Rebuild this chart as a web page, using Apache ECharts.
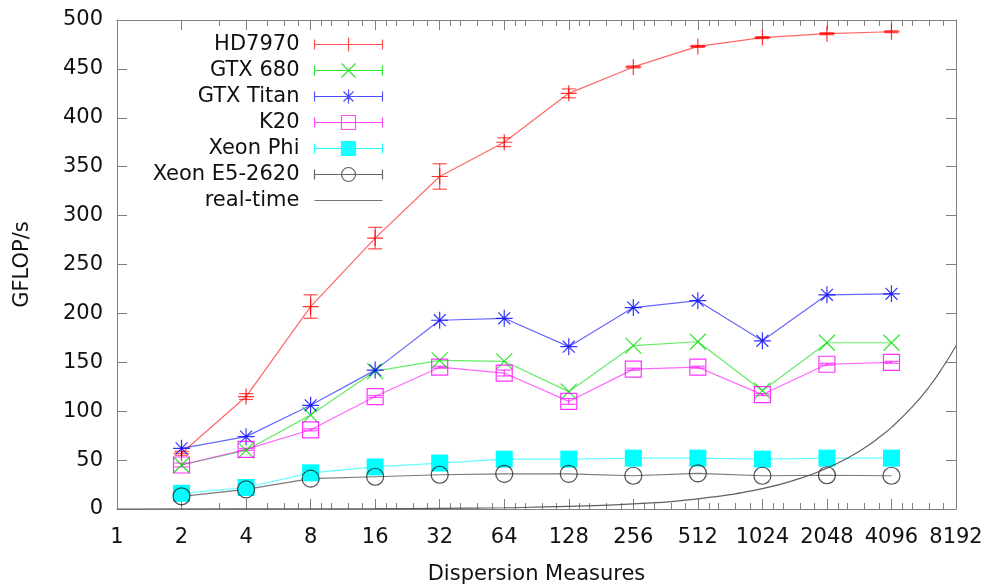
<!DOCTYPE html>
<html>
<head>
<meta charset="utf-8">
<title>GFLOP/s vs Dispersion Measures</title>
<script src="https://cdn.jsdelivr.net/npm/echarts@6/dist/echarts.min.js"></script>
<style>
  html, body { margin: 0; padding: 0; background: #fff; }
  #chart { width: 992px; height: 585px; }
</style>
</head>
<body>
<div id="chart"></div>
<script>
// dispersion measures where the kernels were measured
const dms = [2, 4, 8, 16, 32, 64, 128, 256, 512, 1024, 2048, 4096];
const xTicks = [1, 2, 4, 8, 16, 32, 64, 128, 256, 512, 1024, 2048, 4096, 8192];

const hd7970    = [57, 115, 207, 277, 340, 375, 425, 452, 473, 482, 486, 488];
const hd7970Err = [2, 3, 12, 11, 13, 4.5, 4.5, 1, 1, 1, 1, 1];
const gtx680    = [45, 60, 96, 141, 152, 151, 120, 167, 171, 121, 170, 170];
const gtxTitan  = [62, 74, 106, 142, 193, 195, 166, 206, 213, 172, 219, 220];
const k20       = [45, 61, 81, 115, 145, 139, 110, 143, 145, 117, 148, 150];
const k20Err    = [2, 1, 1, 1, 1, 3, 3, 1, 1, 1, 1, 1];
const xeonPhi   = [16, 22, 37, 43, 47, 51, 51, 52, 52, 51, 52, 52];
const xeonE5    = [13, 20, 31, 33, 35, 36, 36, 34, 36.5, 34, 34.5, 34];

// real-time threshold curve
const realTimeDm = [1, 16, 32, 64, 128, 256, 512, 1024, 1536, 2048, 2560, 3072, 3584, 4096, 5120, 6144, 7168, 8192];
const realTime   = [0.02, 0.33, 0.65, 1.3, 2.6, 5.2, 10.4, 20.9, 31.3, 41.8, 52.2, 62.6, 73.1, 83.5, 104.4, 125, 146.2, 167];

// gnuplot style minor tics: integer multiples inside each octave
const minorTicks = xTicks.slice(0, -1)
  .flatMap(b => [1.125, 1.25, 1.5, 1.75].map(m => b * m))
  .filter(Number.isInteger);

const font = 'DejaVu Sans';
const axisGray = '#808080';

const plusPath = 'path://M0 5L10 5M5 0L5 10';
const crossPath = 'path://M0 0L10 10M10 0L0 10';
const starPath = 'path://M0 5L10 5M5 0L5 10M1.5 1.5L8.5 8.5M8.5 1.5L1.5 8.5';

const base = 'M0 7L68 7M0 2L0 12M68 2L68 12';
const legendIcons = {
  plus: 'path://' + base + 'M27 7L41 7M34 0L34 14',
  cross: 'path://' + base + 'M27 0L41 14M41 0L27 14',
  star: 'path://' + base + 'M27 7L41 7M34 0L34 14M29 2L39 12M39 2L29 12',
  square: 'path://' + base + 'M27 0L41 0L41 14L27 14Z',
  circle: 'path://' + base + 'M41 7A7 7 0 1 1 27 7A7 7 0 1 1 41 7',
  line: 'path://M0 6.5L68 6.5L68 7.5L0 7.5Z'
};

const pairs = (xs, ys) => xs.map((x, i) => [x, ys[i]]);

function lineSeries(name, color, values, symbol, size, filled) {
  return {
    name: name,
    type: 'line',
    data: pairs(dms, values),
    symbol: symbol,
    symbolSize: size,
    showAllSymbol: true,
    lineStyle: { color: color, width: 1.2, opacity: 0.6 },
    itemStyle: filled
      ? { color: color, opacity: 1 }
      : { color: 'none', borderColor: color, borderWidth: 1.2, opacity: 0.8 },
    emphasis: { disabled: true },
    z: 3
  };
}

function errorBars(color, values, errs) {
  return {
    type: 'custom',
    silent: true,
    data: dms.map((d, i) => [d, values[i] - errs[i], values[i] + errs[i]]),
    renderItem: function (params, api) {
      const lo = api.coord([api.value(0), api.value(1)]);
      const hi = api.coord([api.value(0), api.value(2)]);
      const w = 7;
      const style = { stroke: color, lineWidth: 1.2, opacity: 0.7 };
      return {
        type: 'group',
        children: [
          { type: 'line', shape: { x1: lo[0], y1: lo[1], x2: hi[0], y2: hi[1] }, style: style },
          { type: 'line', shape: { x1: lo[0] - w, y1: lo[1], x2: lo[0] + w, y2: lo[1] }, style: style },
          { type: 'line', shape: { x1: hi[0] - w, y1: hi[1], x2: hi[0] + w, y2: hi[1] }, style: style }
        ]
      };
    },
    z: 3
  };
}

function logAxis(position, ticks, length, showLine, showLabels) {
  return {
    type: 'log',
    logBase: 2,
    min: 1,
    max: 8192,
    position: position,
    axisLine: { show: showLine, onZero: false, lineStyle: { color: axisGray, width: 1 } },
    axisTick: { show: true, inside: true, length: length, customValues: ticks, lineStyle: { color: axisGray } },
    axisLabel: {
      show: showLabels, customValues: ticks, margin: 18,
      formatter: v => String(Math.round(v)),
      color: '#111', fontSize: 21, fontFamily: font
    },
    splitLine: { show: false },
    minorTick: { show: false }
  };
}

const chart = echarts.init(document.getElementById('chart'));

const xBottom = logAxis('bottom', xTicks, 10, true, true);
xBottom.name = 'Dispersion Measures';
xBottom.nameLocation = 'middle';
xBottom.nameGap = 55;
xBottom.nameTextStyle = { fontSize: 21, fontFamily: font, color: '#111' };

const option = {
  animation: false,
  backgroundColor: '#fff',
  grid: { left: 117, right: 36, top: 20, bottom: 76, containLabel: false, outerBoundsMode: 'none' },
  xAxis: [
    xBottom,
    logAxis('top', xTicks, 10, true, false),
    logAxis('bottom', minorTicks, 6, false, false),
    logAxis('top', minorTicks, 6, false, false)
  ],
  yAxis: [
    {
      type: 'value', min: 0, max: 500, interval: 50, position: 'left',
      name: 'GFLOP/s', nameLocation: 'middle', nameGap: 84,
      nameTextStyle: { fontSize: 21, fontFamily: font, color: '#111' },
      axisLine: { show: true, lineStyle: { color: axisGray, width: 1 } },
      axisTick: { show: true, inside: true, length: 10, lineStyle: { color: axisGray } },
      axisLabel: { margin: 14, color: '#111', fontSize: 21, fontFamily: font },
      splitLine: { show: false }
    },
    {
      type: 'value', min: 0, max: 500, interval: 50, position: 'right',
      axisLine: { show: true, lineStyle: { color: axisGray, width: 1 } },
      axisTick: { show: true, inside: true, length: 10, lineStyle: { color: axisGray } },
      axisLabel: { show: false },
      splitLine: { show: false }
    }
  ],
  legend: {
    orient: 'vertical',
    right: 607,
    top: 34,
    align: 'right',
    padding: 0,
    itemWidth: 68,
    itemHeight: 14,
    itemGap: 5,
    selectedMode: false,
    textStyle: { fontSize: 21, fontFamily: font, color: '#111', lineHeight: 18, padding: [0, 10, 0, 0] },
    data: [
      { name: 'HD7970', icon: legendIcons.plus, itemStyle: { color: 'none', borderColor: '#ff0000', borderWidth: 1.2, opacity: 0.7 } },
      { name: 'GTX 680', icon: legendIcons.cross, itemStyle: { color: 'none', borderColor: '#00dd00', borderWidth: 1.2, opacity: 0.8 } },
      { name: 'GTX Titan', icon: legendIcons.star, itemStyle: { color: 'none', borderColor: '#0000ff', borderWidth: 1.2, opacity: 0.7 } },
      { name: 'K20', icon: legendIcons.square, itemStyle: { color: 'none', borderColor: '#ff00ff', borderWidth: 1.2, opacity: 0.7 } },
      { name: 'Xeon Phi', icon: legendIcons.square, itemStyle: { color: '#00ffff', borderColor: '#00ffff', borderWidth: 1.2, opacity: 0.9 } },
      { name: 'Xeon E5-2620', icon: legendIcons.circle, itemStyle: { color: 'none', borderColor: '#222', borderWidth: 1.2, opacity: 0.7 } },
      { name: 'real-time', icon: legendIcons.line, itemStyle: { color: '#555', borderWidth: 0, opacity: 0.8 } }
    ]
  },
  series: [
    errorBars('#ff0000', hd7970, hd7970Err),
    lineSeries('HD7970', '#ff0000', hd7970, plusPath, 16, false),
    lineSeries('GTX 680', '#00dd00', gtx680, crossPath, 16, false),
    lineSeries('GTX Titan', '#0000ff', gtxTitan, starPath, 17, false),
    errorBars('#ff00ff', k20, k20Err),
    lineSeries('K20', '#ff00ff', k20, 'rect', 16, false),
    lineSeries('Xeon Phi', '#00ffff', xeonPhi, 'rect', 17, true),
    lineSeries('Xeon E5-2620', '#222222', xeonE5, 'circle', 17, false),
    {
      name: 'real-time',
      type: 'line',
      data: pairs(realTimeDm, realTime),
      symbol: 'none',
      smooth: true,
      lineStyle: { color: '#444', width: 1.2, opacity: 0.85 },
      emphasis: { disabled: true },
      z: 4
    }
  ]
};

chart.setOption(option);
</script>
</body>
</html>
